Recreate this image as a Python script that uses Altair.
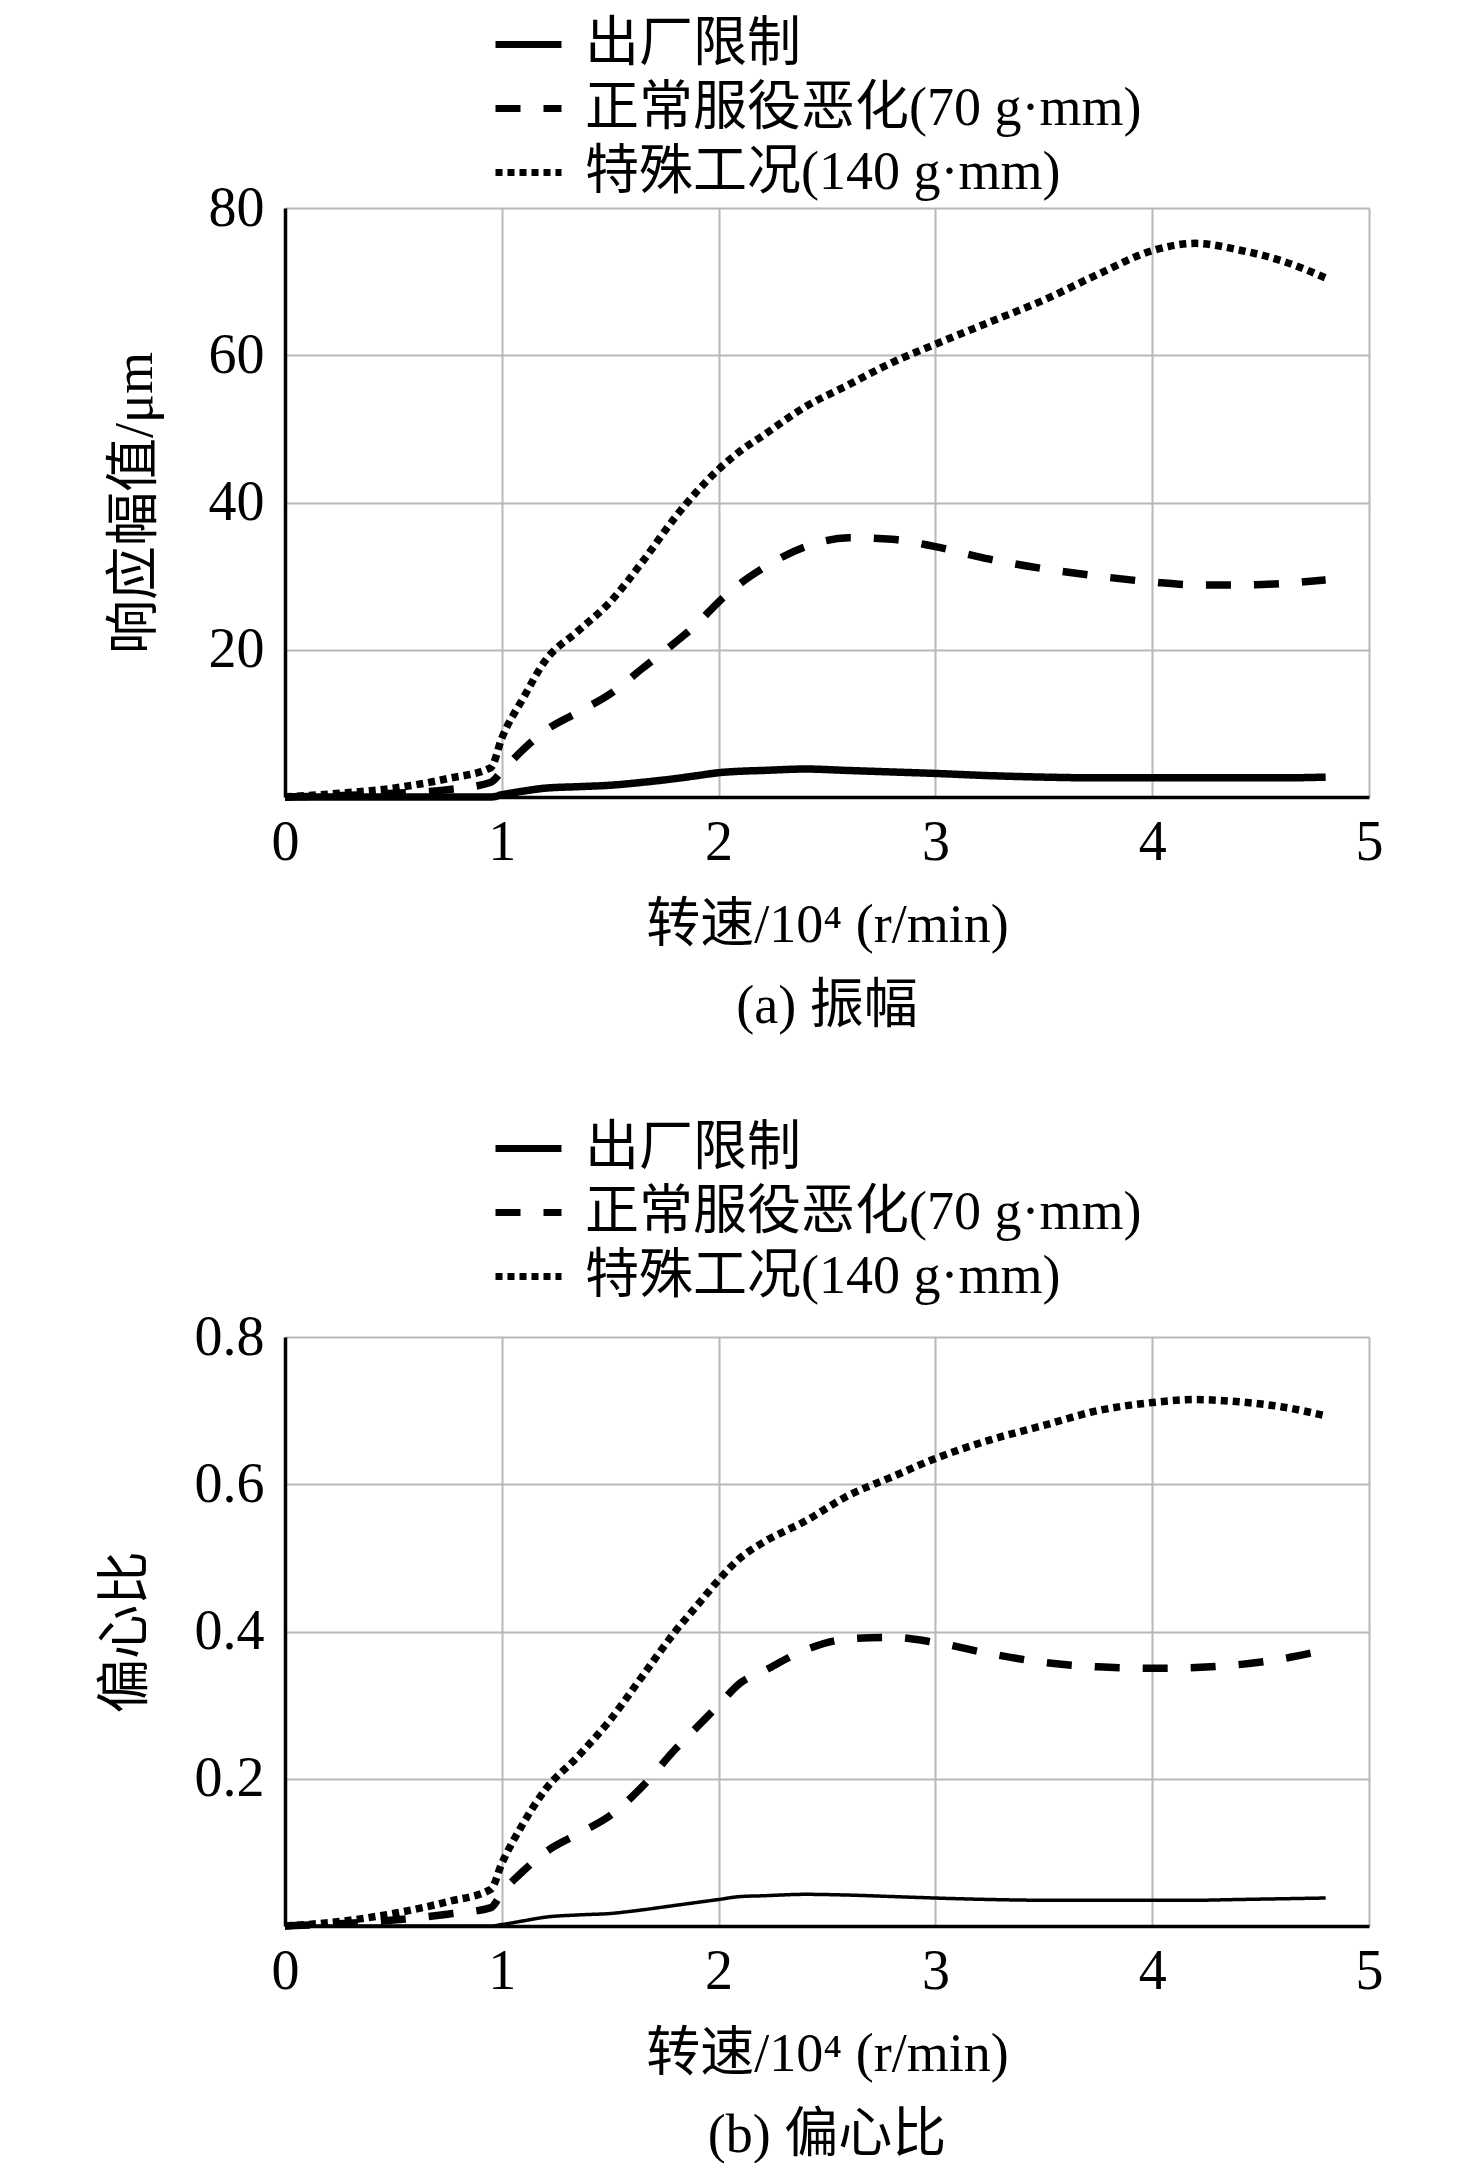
import altair as alt
import pandas as pd

# ---- data ----
speed = [0, 0.25, 0.5, 0.75, 0.95, 1.0, 1.1, 1.2, 1.35, 1.5, 1.65, 1.8, 1.9, 2.0,
         2.1, 2.2, 2.4, 2.6, 2.8, 3.0, 3.25, 3.5, 3.75, 4.0, 4.2, 4.4, 4.6, 4.8]

series_names = ["出厂限制", "正常服役恶化(70 g·mm)", "特殊工况(140 g·mm)"]

# (a) amplitude, µm
amp_factory = [0, 0, 0, 0, 0, 0.3, 0.8, 1.2, 1.4, 1.6, 2.0, 2.5, 2.9, 3.3,
               3.5, 3.6, 3.8, 3.6, 3.4, 3.2, 2.9, 2.7, 2.6, 2.6, 2.6, 2.6, 2.6, 2.7]
amp_normal = [0, 0.2, 0.5, 1.0, 2.0, 3.5, 6.5, 9.0, 11.5, 14.0, 17.5, 21.0, 23.5, 26.5,
              29.0, 31.0, 34.0, 35.2, 35.0, 34.0, 32.3, 31.0, 30.0, 29.2, 28.8, 28.8, 29.0, 29.5]
amp_special = [0, 0.5, 1.2, 2.5, 4.0, 8.0, 13.5, 18.5, 22.5, 26.5, 32.0, 38.0, 41.5, 44.5,
               47.0, 49.0, 53.0, 56.0, 59.0, 61.5, 64.5, 67.5, 71.0, 74.2, 75.2, 74.3, 72.8, 70.5]

# (b) eccentricity ratio
ecc_factory = [0, 0, 0, 0, 0, 0.002, 0.007, 0.012, 0.015, 0.017, 0.022, 0.028, 0.032, 0.036,
               0.040, 0.041, 0.043, 0.042, 0.040, 0.038, 0.036, 0.035, 0.035, 0.035, 0.035, 0.036, 0.037, 0.038]
ecc_normal = [0, 0.003, 0.008, 0.016, 0.025, 0.045, 0.075, 0.10, 0.125, 0.15, 0.19, 0.24, 0.27, 0.30,
              0.33, 0.345, 0.375, 0.39, 0.392, 0.385, 0.37, 0.358, 0.352, 0.35, 0.351, 0.355, 0.363, 0.375]
ecc_special = [0, 0.006, 0.017, 0.033, 0.05, 0.085, 0.14, 0.185, 0.23, 0.28, 0.34, 0.40, 0.435, 0.47,
               0.50, 0.52, 0.55, 0.585, 0.61, 0.635, 0.66, 0.68, 0.70, 0.711, 0.715, 0.712, 0.705, 0.693]

amp_ticks = [20, 40, 60, 80]
ecc_ticks = [0.2, 0.4, 0.6, 0.8]
x_ticks = [0, 1, 2, 3, 4, 5]

FONT = "Liberation Serif, Noto Sans CJK SC"


def make_df(vals_list):
    rows = []
    for name, vals in zip(series_names, vals_list):
        for x, y in zip(speed, vals):
            rows.append({"speed": x, "value": y, "series": name})
    return pd.DataFrame(rows)


def panel(df, ytitle, ymax, yvals, yfmt, caption, solid_width, legend_y, ytitle_pad):
    legend = alt.Legend(
        title=None, orient="none", legendX=207, legendY=legend_y,
        symbolType="stroke", symbolSize=4356, symbolStrokeWidth=7,
        symbolStrokeColor="black", labelFontSize=54, labelFont=FONT,
        labelColor="black", labelLimit=1200, labelOffset=20, rowPadding=0,
    )
    enc = dict(
        x=alt.X("speed:Q", scale=alt.Scale(domain=[0, 5], nice=False),
                axis=alt.Axis(values=x_ticks, format="d", title="转速/10⁴ (r/min)",
                              labelPadding=18, titlePadding=28, labelFlush=False)),
        y=alt.Y("value:Q", scale=alt.Scale(domain=[0, ymax], nice=False),
                axis=alt.Axis(values=yvals, format=yfmt, title=ytitle, labelPadding=21,
                              labelFlush=False, minExtent=100, maxExtent=100,
                              titlePadding=ytitle_pad)),
        strokeDash=alt.StrokeDash("series:N", sort=series_names,
                                  scale=alt.Scale(domain=series_names,
                                                  range=[[1, 0], [25, 23], [7, 5]]),
                                  legend=legend),
    )
    base = alt.Chart(df)
    solid = base.transform_filter(alt.datum.series == series_names[0]).mark_line(
        color="black", interpolate="monotone", strokeCap="butt", strokeWidth=solid_width
    ).encode(**enc)
    others = base.transform_filter(alt.datum.series != series_names[0]).mark_line(
        color="black", interpolate="monotone", strokeCap="butt", strokeWidth=7.5
    ).encode(**enc)
    return alt.layer(solid, others).properties(
        width=1084, height=589,
        title=alt.TitleParams(caption, orient="bottom", fontSize=54, font=FONT,
                              fontWeight="normal", color="black", offset=28, frame="group"),
    )


top = panel(make_df([amp_factory, amp_normal, amp_special]), "响应幅值/μm", 80, amp_ticks, "d",
            "(a) 振幅", 7.5, -200, 23)
bottom = panel(make_df([ecc_factory, ecc_normal, ecc_special]), "偏心比", 0.8, ecc_ticks, ".1f",
               "(b) 偏心比", 3.5, -225, 32)

chart = alt.vconcat(top, bottom, spacing=78).resolve_scale(
    strokeDash="independent"
).resolve_legend(strokeDash="independent").properties(
    padding={"left": 91, "top": 0, "right": 20, "bottom": 0}
).configure(font=FONT).configure_view(strokeWidth=0).configure_axis(
    labelFont=FONT, titleFont=FONT, labelFontSize=56, titleFontSize=54,
    titleFontWeight="normal", labelColor="black", titleColor="black",
    domainColor="black", domainWidth=3.5, gridColor="#b8b8b8", gridWidth=2, ticks=False,
)

chart.save("out.html", embed_options={"renderer": "svg", "actions": False})
